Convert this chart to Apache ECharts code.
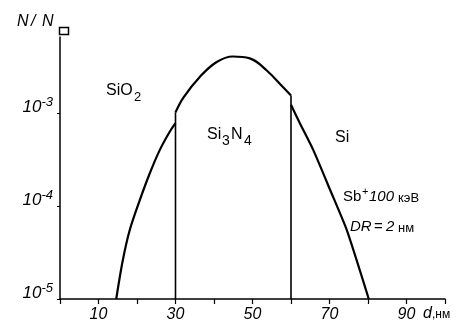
<!DOCTYPE html>
<html>
<head>
<meta charset="utf-8">
<script src="https://cdn.jsdelivr.net/npm/echarts@6/dist/echarts.min.js"></script>
<style>
html,body{margin:0;padding:0;background:#fff;}
#chart{width:468px;height:330px;}
</style>
</head>
<body>
<div id="chart"></div>
<script>
// профиль Sb+ в структуре SiO2 / Si3N4 / Si
var sio2X = [14.6, 16.3, 18.1, 20.7, 23.3, 25.9, 28.5, 30];
var sio2Y = [1e-5, 2.6e-5, 5.5e-5, 1.15e-4, 2.24e-4, 4.0e-4, 6.3e-4, 7.8e-4];
var si3n4X = [30, 32.1, 36.3, 40.7, 44.9, 49.3, 53.7, 57.9, 60];
var si3n4Y = [1.02e-3, 1.48e-3, 2.45e-3, 3.55e-3, 4.07e-3, 3.89e-3, 2.88e-3, 1.91e-3, 1.55e-3];
var siX = [60, 62.3, 65.8, 70.2, 74.5, 80.2];
var siY = [1.23e-3, 7.8e-4, 4.0e-4, 1.48e-4, 5.5e-5, 1e-5];
var bound1 = [[30, 1e-5], [30, 1.02e-3]];   // граница SiO2/Si3N4
var bound2 = [[60, 1e-5], [60, 1.55e-3]];   // граница Si3N4/Si
var xTicks = [10, 30, 50, 70, 90];

function pow10Label(v){
  var e = Math.round(Math.log10(v));
  return '{b|10}{s|' + (e < 0 ? '-' + (-e) : e) + '}';
}
function pairs(xs, ys){
  var out = [];
  for(var i=0;i<xs.length;i++){ out.push([xs[i], ys[i]]); }
  return out;
}

var font = '"Liberation Sans", "DejaVu Sans", sans-serif';
var lineBase = {type:'line', showSymbol:false, silent:true, z:3};

var chart = echarts.init(document.getElementById('chart'));
var option = {
  animation:false,
  backgroundColor:'#fff',
  grid:{left:60, right:23, top:37, bottom:31},
  xAxis:{
    type:'value', min:0, max:100, interval:10,
    axisLine:{lineStyle:{color:'#000', width:1.5}},
    axisTick:{inside:false, length:5, lineStyle:{color:'#000', width:1.2}},
    splitLine:{show:false},
    axisLabel:{
      color:'#000', fontSize:16, fontStyle:'italic', fontFamily:font, margin:8,
      formatter:function(v){ return xTicks.indexOf(v) >= 0 ? String(v) : ''; }
    }
  },
  yAxis:{
    type:'log', logBase:10, min:1e-5, max:6.6e-3,
    axisLine:{show:true, lineStyle:{color:'#000', width:1.5}},
    axisTick:{show:true, length:3, lineStyle:{color:'#000'}},
    minorTick:{show:false},
    splitLine:{show:false},
    axisLabel:{
      color:'#000', fontStyle:'italic', fontFamily:font, margin:7,
      showMaxLabel:false,
      verticalAlign:'middle', padding:[0,0,12,0],
      formatter:pow10Label,
      rich:{
        b:{fontSize:17, fontStyle:'italic', fontFamily:font, color:'#000'},
        s:{fontSize:13, fontStyle:'italic', fontFamily:font, color:'#000', padding:[0,0,10,0]}
      }
    }
  },
  graphic:[
    {type:'text', left:17, top:14, style:{text:'N', fontSize:16, fontStyle:'italic', fontFamily:font, fill:'#000'}},
    {type:'text', left:31, top:14, style:{text:'/', fontSize:16, fontStyle:'italic', fontFamily:font, fill:'#000'}},
    {type:'text', left:42, top:14, style:{text:'N', fontSize:16, fontStyle:'italic', fontFamily:font, fill:'#000'}},
    {type:'rect', left:57, top:25, shape:{width:9, height:7}, style:{fill:'none', stroke:'#000', lineWidth:1.5}},
    {type:'text', left:106, top:83, style:{text:'SiO', fontSize:16, fontFamily:font, fill:'#000'}},
    {type:'text', left:134, top:91, style:{text:'2', fontSize:13, fontFamily:font, fill:'#000'}},
    {type:'text', left:207, top:127, style:{text:'Si', fontSize:16, fontFamily:font, fill:'#000'}},
    {type:'text', left:222, top:134, style:{text:'3', fontSize:14, fontFamily:font, fill:'#000'}},
    {type:'text', left:231, top:127, style:{text:'N', fontSize:16, fontFamily:font, fill:'#000'}},
    {type:'text', left:244, top:134, style:{text:'4', fontSize:14, fontFamily:font, fill:'#000'}},
    {type:'text', left:335, top:130, style:{text:'Si', fontSize:16, fontFamily:font, fill:'#000'}},
    {type:'text', left:343, top:189, style:{text:'Sb', fontSize:15, fontFamily:font, fill:'#000'}},
    {type:'text', left:362, top:186, style:{text:'+', fontSize:11, fontFamily:font, fill:'#000'}},
    {type:'text', left:369, top:189, style:{text:'100', fontSize:15, fontStyle:'italic', fontFamily:font, fill:'#000'}},
    {type:'text', left:398, top:192, style:{text:'кэВ', fontSize:13, fontFamily:font, fill:'#000'}},
    {type:'text', left:350, top:219, style:{text:'DR', fontSize:15, fontStyle:'italic', fontFamily:font, fill:'#000'}},
    {type:'text', left:374, top:219, style:{text:'=', fontSize:15, fontFamily:font, fill:'#000'}},
    {type:'text', left:386, top:219, style:{text:'2', fontSize:15, fontStyle:'italic', fontFamily:font, fill:'#000'}},
    {type:'text', left:398, top:222, style:{text:'нм', fontSize:13, fontFamily:font, fill:'#000'}},
    {type:'text', left:423, top:306, style:{text:'d', fontSize:16, fontStyle:'italic', fontFamily:font, fill:'#000'}},
    {type:'text', left:432, top:309, style:{text:',нм', fontSize:12, fontFamily:font, fill:'#000'}}
  ],
  series:[
    echarts.util.extend({data:pairs(sio2X, sio2Y), smooth:0.3, lineStyle:{color:'#000', width:2.2}}, lineBase),
    echarts.util.extend({data:pairs(si3n4X, si3n4Y), smooth:0.4, lineStyle:{color:'#000', width:2.2}}, lineBase),
    echarts.util.extend({data:pairs(siX, siY), smooth:0.2, lineStyle:{color:'#000', width:2.2}}, lineBase),
    echarts.util.extend({data:bound1, lineStyle:{color:'#000', width:1.6}}, lineBase),
    echarts.util.extend({data:bound2, lineStyle:{color:'#000', width:1.6}}, lineBase)
  ]
};
chart.setOption(option);
</script>
</body>
</html>
